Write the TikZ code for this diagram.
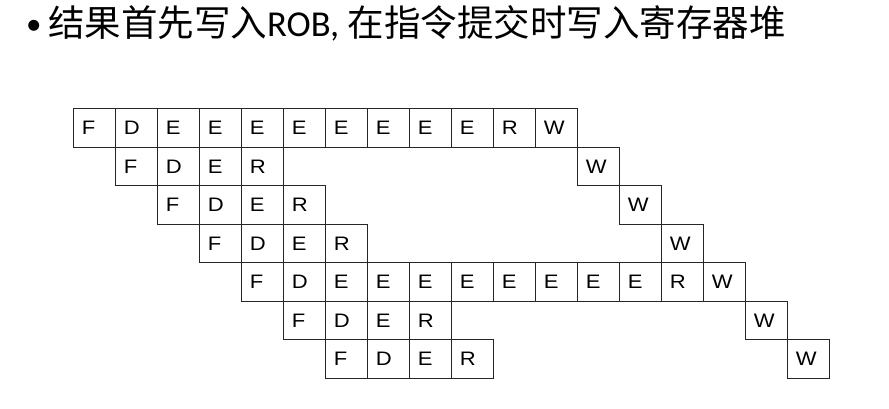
\documentclass[tikz,border=0pt]{standalone}
\usepackage{fontspec}
\setmainfont{Liberation Sans}
\newfontfamily\cjkfont{Noto Sans CJK SC}
\newfontfamily\latinfont{Carlito}
\newfontfamily\stagefont[FakeStretch=1.13]{Liberation Sans}
\tikzset{
    stage-box/.style = {draw=black!85, line width=0.9pt, rectangle, anchor=north west, text width=24pt, inner xsep=9pt, inner ysep=0pt, minimum height=38.5pt, align=left, font=\stagefont\fontsize{19.5}{19.5}\selectfont},
    title-text/.style = {anchor=base west, inner sep=0pt, font=\fontsize{36.5}{36.5}\selectfont},
}
\begin{document}
\begin{tikzpicture}[x=1pt, y=-1pt]
\useasboundingbox (0,0) rectangle (889,409);
\node[title-text, font=\fontsize{31}{31}\selectfont] (bullet) at (26,35) {\latinfont •};
\node[title-text] (title) at (48,37) {\cjkfont 结果首先写入\latinfont ROB, \cjkfont 在指令提交时写入寄存器堆};
% row / first column / stages / column of W
\foreach \r/\s/\seq/\w in {0/0/{F,D,E,E,E,E,E,E,E,E,R}/11,
                           1/1/{F,D,E,R}/12,
                           2/2/{F,D,E,R}/13,
                           3/3/{F,D,E,R}/14,
                           4/4/{F,D,E,E,E,E,E,E,E,E,R}/15,
                           5/5/{F,D,E,R}/16,
                           6/6/{F,D,E,R}/17} {
    \foreach \l [count=\c from \s] in \seq
        \node[stage-box] (c\r-\c) at (72.5+42*\c, 108.3+38.5*\r) {\l};
    \node[stage-box] (w\r) at (72.5+42*\w, 108.3+38.5*\r) {W};
}
\end{tikzpicture}
\end{document}
